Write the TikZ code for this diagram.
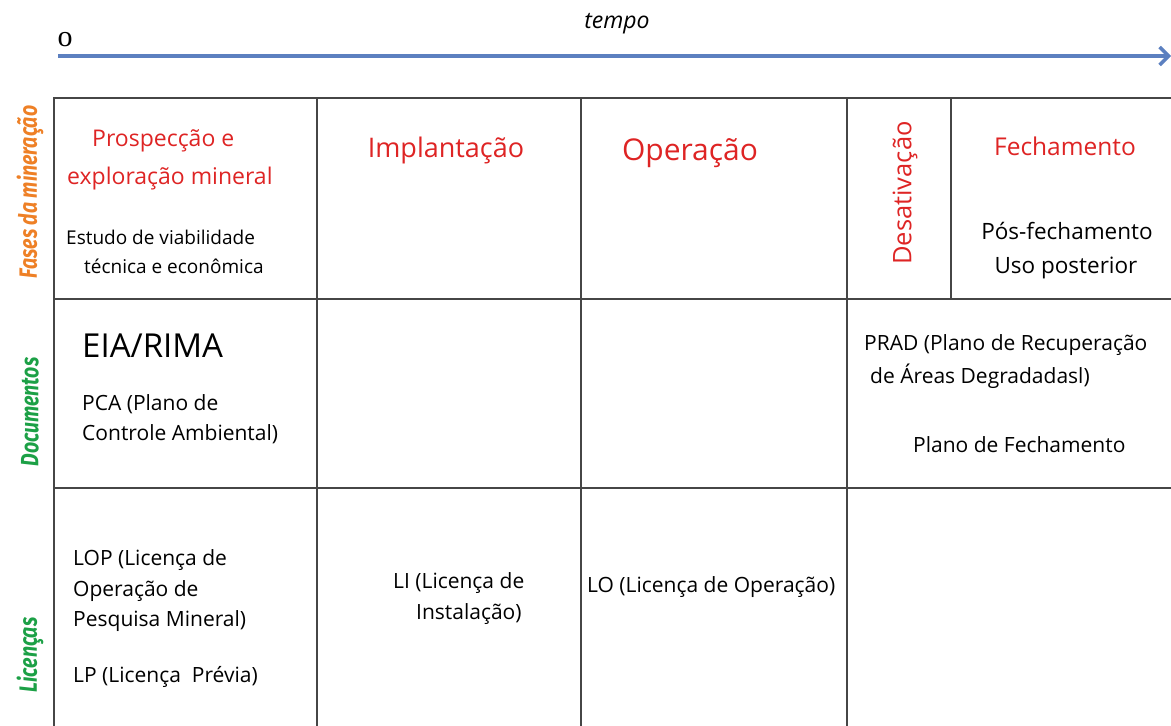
\documentclass[tikz,border=0pt]{standalone}
\usepackage{fontspec}
\usetikzlibrary{arrows.meta}
\setmainfont{Open Sans}
\newfontfamily\sidefont[FakeStretch=0.78]{Fira Sans}
\newfontfamily\zerofont{Liberation Serif}
\definecolor{phasered}{RGB}{222,36,36}
\definecolor{sideorange}{RGB}{238,128,38}
\definecolor{sidegreen}{RGB}{28,160,70}
\definecolor{timeblue}{RGB}{92,128,192}
\definecolor{gridgray}{RGB}{70,70,70}

\tikzset{
  txt/.style={anchor=west, inner sep=0pt, font=\fontsize{21}{24}\selectfont},
  head/.style={anchor=center, inner sep=0pt, text=phasered, font=\fontsize{23}{26}\selectfont},
  side/.style={anchor=center, inner sep=0pt, rotate=90, font=\sidefont\itshape\bfseries\fontsize{25}{28}\selectfont},
  grid/.style={draw=gridgray, line width=1.4pt}
}

\begin{document}
\begin{tikzpicture}[x=1pt, y=-1pt]
    \useasboundingbox (0,0) rectangle (1171,726);
    
    %%%%% time axis %%%%%
    \coordinate (t0) at (58,56);
    \coordinate (t1) at (1171,56);
    \draw[timeblue, line width=3.5pt, -{Straight Barb[length=9pt, width=18pt]}] (t0) -- (t1);
    \node[inner sep=0pt, font=\zerofont\fontsize{30}{32}\selectfont] (zero) at (65,40) {o};
    \node[inner sep=0pt, font=\itshape\fontsize{23}{26}\selectfont] (tempo) at (617,24) {tempo};
    
    %%%%% table %%%%%
    \draw[grid] (1180,98) -- (54,98) -- (54,735);
    \draw[grid] (54,299) -- (1180,299);
    \draw[grid] (54,488) -- (1180,488);
    \draw[grid] (317,98) -- (317,735);
    \draw[grid] (581,98) -- (581,735);
    \draw[grid] (847,98) -- (847,735);
    \draw[grid] (951,98) -- (951,299);
    
    %%%%% row labels %%%%%
    \node[side, text=sideorange] (fases) at (30,192) {Fases da mineração};
    \node[side, text=sidegreen] (docs) at (30,412) {Documentos};
    \node[side, text=sidegreen] (lic) at (30,655) {Licenças};
    
    %%%%% phases %%%%%
    \node[head, anchor=west] (prosp) at (92,141) {Prospecção e};
    \node[head, anchor=west] (explo) at (67,179) {exploração mineral};
    \node[txt, font=\fontsize{19}{22}\selectfont] (estudo) at (66,237) {Estudo de viabilidade};
    \node[txt, font=\fontsize{19}{22}\selectfont] (tecnica) at (84,266) {técnica e econômica};
    \node[head, font=\fontsize{27}{30}\selectfont] (implant) at (446,150) {Implantação};
    \node[head, font=\fontsize{30}{32}\selectfont] (operacao) at (690,153) {Operação};
    \node[head, rotate=90, font=\fontsize{25.5}{28}\selectfont] (desativ) at (905,193) {Desativação};
    \node[head, font=\fontsize{24.5}{27}\selectfont] (fecham) at (1065,146) {Fechamento};
    \node[head, text=black, font=\fontsize{22.5}{25}\selectfont] (posfech) at (1067,231) {Pós-fechamento};
    \node[head, text=black, font=\fontsize{22.5}{25}\selectfont] (uso) at (1066,268) {Uso posterior};
    
    %%%%% documents %%%%%
    \node[txt, font=\fontsize{33}{36}\selectfont] (eia) at (82,346) {EIA/RIMA};
    \node[txt] (pca) at (82,404) {PCA (Plano de};
    \node[txt] (pca2) at (82,434) {Controle Ambiental)};
    \node[txt] (prad) at (864,345) {PRAD (Plano de Recuperação};
    \node[txt] (prad2) at (870,376) {de Áreas Degradadasl)};
    \node[txt] (planofech) at (913,445) {Plano de Fechamento};
    
    %%%%% licences %%%%%
    \node[txt] (lop) at (73,560) {LOP (Licença de};
    \node[txt] (lop2) at (73,591) {Operação de};
    \node[txt] (lop3) at (73,621) {Pesquisa Mineral)};
    \node[txt] (lp) at (73,677) {LP (Licença~ Prévia)};
    \node[txt] (li) at (393,583) {LI (Licença de};
    \node[txt] (li2) at (416,614) {Instalação)};
    \node[txt] (lo) at (587,587) {LO (Licença de Operação)};
    
\end{tikzpicture}
\end{document}
